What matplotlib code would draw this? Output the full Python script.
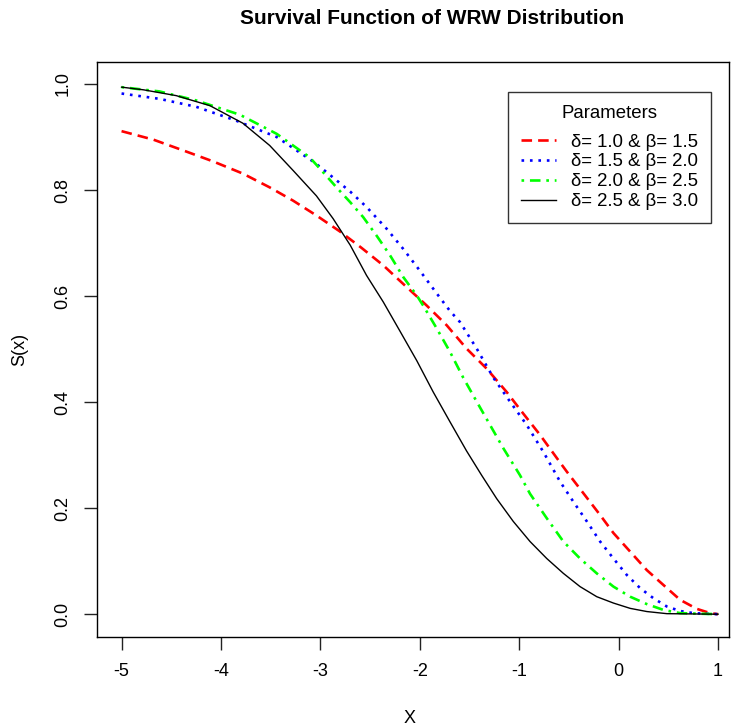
import matplotlib
matplotlib.use("Agg")
import matplotlib.pyplot as plt

plt.rcParams['font.family'] = ['Liberation Sans', 'DejaVu Sans']

# Series (x, S(x))
red_x = [-5.0, -4.68, -4.37, -4.08, -3.78, -3.51, -3.275, -3.04, -2.805, -2.587, -2.368, -2.15,
         -1.93, -1.73, -1.53, -1.327, -1.126, -0.958, -0.79, -0.62, -0.522, -0.354, -0.186,
         -0.052, 0.116, 0.284, 0.451, 0.619, 0.787, 0.922, 1.0]
red_y = [0.911, 0.895, 0.874, 0.854, 0.831, 0.805, 0.780, 0.752, 0.722, 0.691, 0.658, 0.620,
         0.582, 0.545, 0.501, 0.463, 0.419, 0.378, 0.338, 0.294, 0.269, 0.228, 0.187,
         0.153, 0.118, 0.083, 0.055, 0.027, 0.010, 0.002, 0.0]

blue_x = [-5.0, -4.62, -4.25, -3.85, -3.44, -3.06, -2.94, -2.70, -2.536, -2.334, -2.167, -2.0,
          -1.83, -1.697, -1.596, -1.428, -1.26, -1.093, -0.925, -0.757, -0.589, -0.455, -0.32,
          -0.186, -0.052, 0.082, 0.217, 0.351, 0.485, 0.619, 0.753, 1.0]
blue_y = [0.982, 0.972, 0.957, 0.931, 0.900, 0.852, 0.834, 0.797, 0.768, 0.727, 0.689, 0.648,
          0.605, 0.572, 0.551, 0.501, 0.446, 0.401, 0.357, 0.306, 0.250, 0.212, 0.175,
          0.137, 0.105, 0.074, 0.049, 0.030, 0.0145, 0.006, 0.002, 0.0]

green_x = [-5.0, -4.62, -4.25, -3.81, -3.44, -3.11, -2.989, -2.838, -2.70, -2.57, -2.435, -2.30,
           -2.167, -2.03, -1.966, -1.83, -1.697, -1.563, -1.428, -1.294, -1.16, -0.992, -0.891,
           -0.723, -0.556, -0.388, -0.22, -0.052, 0.116, 0.284, 0.451, 0.619, 1.0]
green_y = [0.994, 0.986, 0.969, 0.942, 0.906, 0.862, 0.837, 0.805, 0.777, 0.749, 0.714, 0.677,
           0.636, 0.601, 0.582, 0.539, 0.495, 0.446, 0.401, 0.357, 0.313, 0.262, 0.227,
           0.181, 0.137, 0.105, 0.077, 0.052, 0.033, 0.019, 0.008, 0.002, 0.0]

black_x = [-5.0, -4.78, -4.45, -4.11, -3.78, -3.51, -3.275, -3.04, -2.872, -2.70, -2.536, -2.368,
           -2.2, -2.03, -1.865, -1.697, -1.53, -1.378, -1.227, -1.06, -0.891, -0.723, -0.556,
           -0.388, -0.22, -0.052, 0.116, 0.284, 0.485, 1.0]
black_y = [0.994, 0.989, 0.978, 0.959, 0.926, 0.884, 0.837, 0.789, 0.746, 0.696, 0.639, 0.589,
           0.534, 0.478, 0.419, 0.363, 0.308, 0.262, 0.218, 0.175, 0.137, 0.105, 0.077,
           0.052, 0.033, 0.021, 0.011, 0.005, 0.001, 0.0]

labels = ["δ= 1.0 & β= 1.5", "δ= 1.5 & β= 2.0", "δ= 2.0 & β= 2.5", "δ= 2.5 & β= 3.0"]
x_ticks = [-5, -4, -3, -2, -1, 0, 1]
y_ticks = [0.0, 0.2, 0.4, 0.6, 0.8, 1.0]

W, H = 731, 727
L, R, T, B = 96.7, 729.0, 61.7, 637.0
fig = plt.figure(figsize=(W / 100, H / 100), dpi=100)
ax = fig.add_axes([L / W, 1 - B / H, (R - L) / W, (B - T) / H])

ax.plot(red_x, red_y, color='#ff0000', lw=1.9, ls=(0, (4, 2.3)), label=labels[0])
ax.plot(blue_x, blue_y, color='#0000ff', lw=1.9, ls=(0, (1, 2.2)), label=labels[1])
ax.plot(green_x, green_y, color='#00ff00', lw=1.9, ls=(0, (1, 2.2, 4, 2.2)), label=labels[2])
ax.plot(black_x, black_y, color='black', lw=1.0, label=labels[3])

ax.set_xlim(-5.25, 1.11)
ax.set_ylim(-0.043, 1.042)
ax.set_xticks(x_ticks)
ax.set_xticklabels([str(v) for v in x_ticks])
ax.set_yticks(y_ticks)
ax.set_yticklabels([f"{v:.1f}" for v in y_ticks], rotation=90, va='center')
ax.tick_params(direction='out', length=9.4, width=1, labelsize=13, color='#222222')
ax.tick_params(axis='x', pad=9.5)
ax.tick_params(axis='y', pad=9)
for s in ax.spines.values():
    s.set_linewidth(1.0)

ax.set_xlabel("X", fontsize=13, va='top')
ax.xaxis.set_label_coords((410 - L) / (R - L), -(710 - B) / (B - T))
ax.set_ylabel("S(x)", fontsize=13)
ax.yaxis.set_label_coords(-(L - 28) / (R - L), 0.5)

fig.text(432 / W, 1 - 18 / H, "Survival Function of WRW Distribution",
         ha='center', va='center', fontsize=15, fontweight='bold')

leg = ax.legend(title="Parameters", loc='upper right',
                bbox_to_anchor=((710.7 - L) / (R - L), (B - 91.7) / (B - T)),
                fontsize=13.4, title_fontsize=13.4, frameon=True, fancybox=False,
                edgecolor='black', handlelength=1.85, handletextpad=0.8,
                borderpad=0.7, labelspacing=0.15, borderaxespad=0)
leg.get_frame().set_linewidth(1.0)
leg._legend_box.sep = 8.5

fig.savefig("out.png", dpi=100)
